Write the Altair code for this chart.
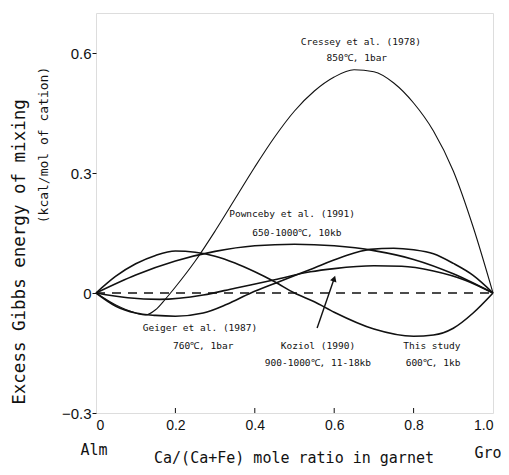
import altair as alt
import pandas as pd

# ---- data ----
cressey_x = [0, 0.05, 0.1, 0.125, 0.15, 0.175, 0.2, 0.25, 0.3, 0.35, 0.4, 0.45, 0.5, 0.55, 0.6, 0.65, 0.7, 0.75, 0.8, 0.85, 0.9, 0.95, 1.0]
cressey_y = [0, -0.03, -0.05, -0.055, -0.042, -0.015, 0.015, 0.08, 0.155, 0.235, 0.315, 0.39, 0.455, 0.505, 0.54, 0.558, 0.553, 0.525, 0.475, 0.405, 0.305, 0.165, 0]

pownceby_x = [0, 0.1, 0.2, 0.3, 0.4, 0.5, 0.6, 0.7, 0.8, 0.9, 1.0]
pownceby_y = [0, 0.045, 0.08, 0.104, 0.118, 0.122, 0.118, 0.106, 0.084, 0.048, 0]

geiger_x = [0, 0.05, 0.1, 0.15, 0.2, 0.27, 0.33, 0.39, 0.45, 0.54, 0.62, 0.69, 0.75, 0.8, 0.85, 0.9, 0.95, 1.0]
geiger_y = [0, -0.033, -0.05, -0.056, -0.058, -0.05, -0.028, 0.0, 0.024, 0.059, 0.09, 0.109, 0.112, 0.108, 0.098, 0.074, 0.044, 0]

koziol_x = [0, 0.08, 0.16, 0.27, 0.35, 0.45, 0.54, 0.6, 0.7, 0.77, 0.85, 0.93, 1.0]
koziol_y = [0, -0.012, -0.016, -0.005, 0.012, 0.033, 0.053, 0.061, 0.068, 0.067, 0.055, 0.032, 0]

this_study_x = [0, 0.05, 0.1, 0.15, 0.2, 0.25, 0.3, 0.35, 0.4, 0.45, 0.5, 0.55, 0.6, 0.7, 0.8, 0.85, 0.9, 0.95, 1.0]
this_study_y = [0, 0.042, 0.073, 0.094, 0.105, 0.102, 0.092, 0.075, 0.053, 0.028, 0.0, -0.022, -0.048, -0.09, -0.108, -0.105, -0.088, -0.05, 0]

ideal_x = [0, 1.0]
ideal_y = [0, 0]

label_lines = ["Cressey et al. (1978)", "850℃, 1bar",
               "Pownceby et al. (1991)", "650-1000℃, 10kb",
               "Geiger et al. (1987)", "760℃, 1bar",
               "Koziol (1990)", "900-1000℃, 11-18kb",
               "This study", "600℃, 1kb"]
label_x = [0.667, 0.657, 0.494, 0.506, 0.262, 0.27, 0.559, 0.559, 0.846, 0.849]
label_y = [0.628, 0.588, 0.197, 0.15, -0.0875, -0.1325, -0.1325, -0.175, -0.1325, -0.175]

arrow_x = [0.557]
arrow_y = [-0.0875]
arrow_x2 = [0.600]
arrow_y2 = [0.036]

x_ticks = [0, 0.2, 0.4, 0.6, 0.8, 1.0]
y_ticks = [-0.3, 0, 0.3, 0.6]
inner_x_ticks = [0.2, 0.4, 0.6, 0.8]

# ---- build tables ----
rows = []
for name, xs, ys in [("Cressey", cressey_x, cressey_y),
                     ("Pownceby", pownceby_x, pownceby_y),
                     ("Geiger", geiger_x, geiger_y),
                     ("Koziol", koziol_x, koziol_y),
                     ("This study", this_study_x, this_study_y)]:
    for a, b in zip(xs, ys):
        rows.append({"series": name, "x": a, "y": b})
curves = pd.DataFrame(rows)
ideal = pd.DataFrame({"x": ideal_x, "y": ideal_y})
labels = pd.DataFrame({"x": label_x, "y": label_y, "t": label_lines})
arrow = pd.DataFrame({"x": arrow_x, "y": arrow_y, "x2": arrow_x2, "y2": arrow_y2})
ticks_df = pd.DataFrame({"x": inner_x_ticks})

INK = "#111111"
xscale = alt.Scale(domain=[0, 1], nice=False, zero=False)
yscale = alt.Scale(domain=[-0.3, 0.7], nice=False, zero=False)

xenc = alt.X("x:Q", scale=xscale, axis=alt.Axis(
    values=x_ticks, title=None, grid=False, domain=False, ticks=False,
    labelPadding=5, labelFontSize=14, labelFont="Liberation Sans", labelColor=INK,
    labelExpr="datum.value == 0 ? '0' : format(datum.value, '.1f')"))
yenc = alt.Y("y:Q", scale=yscale, axis=alt.Axis(
    values=y_ticks, title=None, grid=False, domain=False, ticks=True, tickSize=4,
    tickColor=INK, labelPadding=1, labelFontSize=15, labelFont="Liberation Sans",
    labelColor=INK,
    labelExpr="datum.value == 0 ? '0' : format(datum.value, '.1f')"))

thick = alt.Chart(curves).transform_filter("datum.series != 'Cressey'").mark_line(
    color=INK, strokeWidth=1.6, interpolate="monotone").encode(
    x=xenc, y=yenc, detail="series:N")
thin = alt.Chart(curves).transform_filter("datum.series == 'Cressey'").mark_line(
    color=INK, strokeWidth=1.1, interpolate="monotone").encode(
    x=alt.X("x:Q", scale=xscale), y=alt.Y("y:Q", scale=yscale))
dashed = alt.Chart(ideal).mark_line(color=INK, strokeWidth=1.5, strokeDash=[9, 7]).encode(
    x=alt.X("x:Q", scale=xscale), y=alt.Y("y:Q", scale=yscale))

inner_ticks = alt.Chart(ticks_df).mark_rule(color=INK, strokeWidth=1).encode(
    x=alt.X("x:Q", scale=xscale), y=alt.value(400), y2=alt.value(395))

curve_labels = alt.Chart(labels).mark_text(
    font="DejaVu Sans Mono", fontSize=9.5, color=INK, align="center", baseline="middle").encode(
    x=alt.X("x:Q", scale=xscale), y=alt.Y("y:Q", scale=yscale), text="t:N")

arrow_line = alt.Chart(arrow).mark_rule(color=INK, strokeWidth=1.4).encode(
    x=alt.X("x:Q", scale=xscale), y=alt.Y("y:Q", scale=yscale), x2="x2:Q", y2="y2:Q")
arrow_head = alt.Chart(arrow).mark_point(
    shape="triangle-up", filled=True, color=INK, size=45, angle=19, opacity=1).encode(
    x=alt.X("x2:Q", scale=xscale), y=alt.Y("y2:Q", scale=yscale))

def txt(s, px, py, size, angle=0):
    return alt.Chart(pd.DataFrame({"t": [s]})).mark_text(
        font="DejaVu Sans Mono", fontSize=size, color=INK, angle=angle,
        align="center", baseline="middle").encode(
        x=alt.value(px), y=alt.value(py), text="t:N")

ytitle = txt("Excess Gibbs energy of mixing", -76, 239, 17.5, 270)
ysub = txt("(kcal/mol of cation)", -52, 132, 13, 270)
xtitle = txt("Ca/(Ca+Fe) mole ratio in garnet", 198, 445, 15)
alm = txt("Alm", -2, 437, 15)
gro = txt("Gro", 392, 440, 15)

chart = alt.layer(
    dashed, thick, thin, inner_ticks, curve_labels, arrow_line, arrow_head,
    ytitle, ysub, xtitle, alm, gro
).properties(
    width=397, height=400,
    autosize=alt.AutoSizeParams(type="none"),
    padding={"left": 88, "top": 5, "right": 8, "bottom": 54},
).configure_view(stroke=INK, strokeWidth=1.4).configure(background="white")

chart.save("out.html", embed_options={"renderer": "svg", "actions": False})
